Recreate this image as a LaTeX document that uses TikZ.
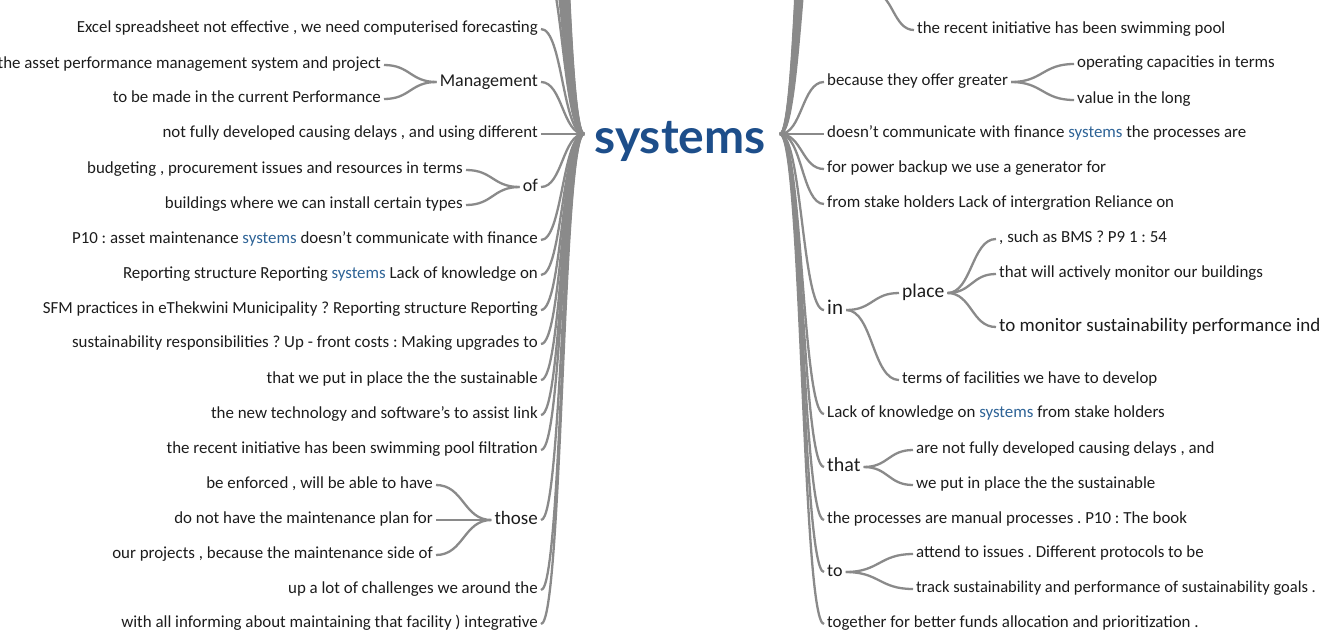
\documentclass[tikz,border=0pt]{standalone}
\usepackage{fontspec}
\setmainfont{Carlito}
\newfontfamily\rootfont{Lato}
\usetikzlibrary{calc}
\frenchspacing

\definecolor{linkgrey}{HTML}{8A8A8A}
\definecolor{txt}{HTML}{1C1C1C}
\definecolor{kwblue}{HTML}{2E6396}
\definecolor{rootblue}{HTML}{1D4E8A}

% keyword highlighted inside a branch text
\newcommand\kw[1]{\textcolor{kwblue}{#1}}
\newcommand\fsz[1]{\fontsize{#1}{#1}\selectfont}

\tikzset{
  % branch text: box centred on the middle of the x-height
  word/.style={font=\fsz{#1}, text=txt, inner xsep=3pt, inner ysep=0pt,
    text height={0.716*#1pt}, text depth={0.25*#1pt}, yshift=-2pt},
  word/.default=16.9,
  lw/.style={word=#1, anchor=east},
  lw/.default=16.9,
  rw/.style={word=#1, anchor=west},
  rw/.default=16.9,
  link/.style={draw=linkgrey, line width=2.3pt},
  % horizontal-tangent connector between two points
  diag/.style={to path={let \p1=(\tikztostart), \p2=(\tikztotarget) in
    .. controls ({(\x1+\x2)/2},\y1) and ({(\x1+\x2)/2},\y2) .. (\tikztotarget)}},
}

\begin{document}
\begin{tikzpicture}[x=1pt,y=-1pt]
\useasboundingbox (0,0) rectangle (1320,633);
\clip (0,0) rectangle (1320,633);

% centre word
\node[font=\rootfont\bfseries\fsz{48}, text=rootblue, inner sep=0pt, anchor=base] (sys) at (680,153) {systems};
\coordinate (rootL) at (584,134);
\coordinate (rootR) at (780,134);

% ---- left branches ----
\node[lw] (l1) at (541,27) {Excel spreadsheet not effective , we need computerised forecasting};
\node[lw=18] (lmg) at (541,80) {Management};
\node[lw] (lmg1) at (384,63) {the asset performance management system and project};
\node[lw] (lmg2) at (384,97) {to be made in the current Performance};
\node[lw] (l3) at (541,132) {not fully developed causing delays , and using different};
\node[lw=18] (lof) at (541,185) {of};
\node[lw] (lof1) at (466,168) {budgeting , procurement issues and resources in terms};
\node[lw] (lof2) at (466,203) {buildings where we can install certain types};
\node[lw] (l5) at (541,238) {P10 : asset maintenance \kw{systems} doesn’t communicate with finance};
\node[lw] (l6) at (541,273) {Reporting structure Reporting \kw{systems} Lack of knowledge on};
\node[lw] (l7) at (541,308) {SFM practices in eThekwini Municipality ? Reporting structure Reporting};
\node[lw] (l8) at (541,342) {sustainability responsibilities ? Up - front costs : Making upgrades to};
\node[lw] (l9) at (541,378) {that we put in place the the sustainable};
\node[lw] (l10) at (541,413) {the new technology and software’s to assist link};
\node[lw] (l11) at (541,448) {the recent initiative has been swimming pool filtration};
\node[lw=19] (lth) at (541,518) {those};
\node[lw] (lth1) at (436,483) {be enforced , will be able to have};
\node[lw] (lth2) at (436,518) {do not have the maintenance plan for};
\node[lw] (lth3) at (436,553) {our projects , because the maintenance side of};
\node[lw] (l13) at (541,588) {up a lot of challenges we around the};
\node[lw] (l14) at (541,622) {with all informing about maintaining that facility ) integrative};

\foreach \nd in {l1,lmg,l3,lof,l5,l6,l7,l8,l9,l10,l11,lth,l13,l14}
  \draw[link] (\nd.east) to[diag] (rootL);
\foreach \ka/\pa in {lmg1/lmg,lmg2/lmg,lof1/lof,lof2/lof,lth1/lth,lth2/lth,lth3/lth}
  \draw[link] (\ka.east) to[diag] (\pa.west);
% branches continuing above the top edge
\foreach \k in {1,...,14} {
  \coordinate (upL\k) at (541,{-8-35*\k});
  \draw[link] (upL\k) to[diag] (rootL);
}

% ---- right branches ----
\coordinate (rup) at (872,-8);
\node[rw] (r0) at (914,28) {the recent initiative has been swimming pool};
\node[rw] (r1) at (824,80) {because they offer greater};
\node[rw] (r11) at (1074,62) {operating capacities in terms};
\node[rw] (r12) at (1074,98) {value in the long};
\node[rw] (r2) at (824,132) {doesn’t communicate with finance \kw{systems} the processes are};
\node[rw] (r3) at (824,167) {for power backup we use a generator for};
\node[rw] (r4) at (824,202) {from stake holders Lack of intergration Reliance on};
\node[rw=21] (rin) at (824,308) {in};
\node[rw=19.5] (rpl) at (899,291) {place};
\node[rw] (rpl1) at (996,237) {, such as BMS ? P9 1 : 54};
\node[rw] (rpl2) at (996,272) {that will actively monitor our buildings};
\node[rw=19] (rpl3) at (996,325) {to monitor sustainability performance indicators};
\node[rw] (rin2) at (899,378) {terms of facilities we have to develop};
\node[rw] (r6) at (824,412) {Lack of knowledge on \kw{systems} from stake holders};
\node[rw=20] (rth) at (824,465) {that};
\node[rw] (rth1) at (913,448) {are not fully developed causing delays , and};
\node[rw] (rth2) at (913,483) {we put in place the the sustainable};
\node[rw] (r8) at (824,518) {the processes are manual processes . P10 : The book};
\node[rw=18] (rto) at (824,570) {to};
\node[rw] (rto1) at (913,552) {attend to issues . Different protocols to be};
\node[rw=16.5] (rto2) at (913,587) {track sustainability and performance of sustainability goals .};
\node[rw] (r10) at (824,622) {together for better funds allocation and prioritization .};

\foreach \nd in {r1,r2,r3,r4,rin,r6,rth,r8,rto,r10}
  \draw[link] (rootR) to[diag] (\nd.west);
\foreach \pa/\ka in {r1/r11,r1/r12,rin/rpl,rin/rin2,rpl/rpl1,rpl/rpl2,rpl/rpl3,rth/rth1,rth/rth2,rto/rto1,rto/rto2}
  \draw[link] (\pa.east) to[diag] (\ka.west);
\draw[link] (rup) to[diag] (r0.west);
\foreach \k in {0,...,10} {
  \coordinate (upR\k) at (824,{-127-35*\k});
  \draw[link] (rootR) to[diag] (upR\k);
}
\end{tikzpicture}
\end{document}
